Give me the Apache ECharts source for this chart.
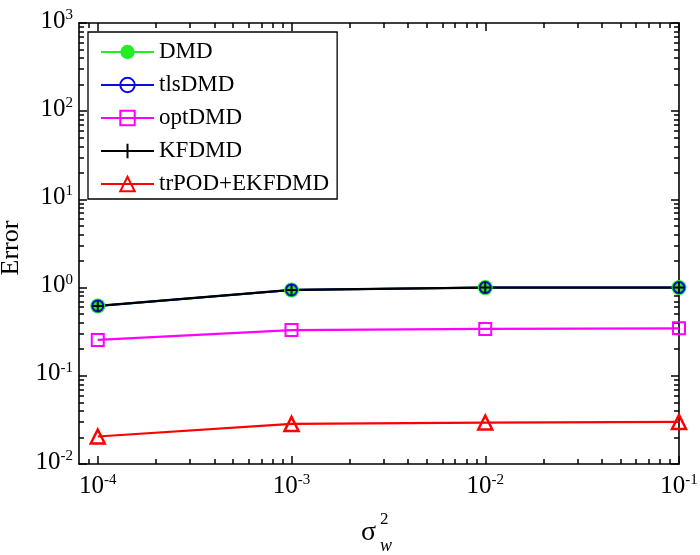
<!DOCTYPE html>
<html>
<head>
<meta charset="utf-8">
<script src="https://cdn.jsdelivr.net/npm/echarts@6/dist/echarts.min.js"></script>
<style>html,body{margin:0;padding:0;background:#fff;}#c{width:700px;height:555px;}</style>
</head>
<body>
<div id="c"></div>
<script>
// ---- data ----
var xValues = [1e-4, 1e-3, 1e-2, 1e-1];
var dmd     = [0.62, 0.94, 1.0, 1.0];
var tlsDmd  = [0.62, 0.94, 1.0, 1.0];
var optDmd  = [0.255, 0.33, 0.34, 0.345];
var kfDmd   = [0.62, 0.94, 1.0, 1.0];
var trPod   = [0.0205, 0.0285, 0.0295, 0.0300];
var seriesNames = ['DMD', 'tlsDMD', 'optDMD', 'KFDMD', 'trPOD+EKFDMD'];
var xMajorTicks = [1e-4, 1e-3, 1e-2, 1e-1];
var yMajorTicks = [1e-2, 1e-1, 1, 1e1, 1e2, 1e3];

var FONT = '"Liberation Serif", "Times New Roman", serif';

var xMin = 8e-5, xMax = 0.1, yMin = 1e-2, yMax = 1e3;

function minorList(decadesFrom, decadesTo, lo, hi) {
  var out = [];
  for (var e = decadesFrom; e <= decadesTo; e++) {
    for (var m = 2; m <= 9; m++) {
      var v = m * Math.pow(10, e);
      if (v > lo * 1.0001 && v < hi * 0.9999) out.push(v);
    }
  }
  return out;
}
var lg = function (v) { return Math.log10(v); };
var xMinor = minorList(-5, -2, xMin, xMax);
var yMinor = minorList(-2, 2, yMin, yMax);

function pair(a, b) { return a.map(function (v, i) { return [a[i], b[i]]; }); }

var labelRich = {
  b: { fontFamily: FONT, fontSize: 25, lineHeight: 26, color: '#000', verticalAlign: 'bottom' },
  s: { fontFamily: FONT, fontSize: 15, lineHeight: 15, color: '#000', verticalAlign: 'top', padding: [0, 0, 16, 0] }
};
function fmt(v) { return '{b|10}{s|' + Math.round(Math.log10(v)) + '}'; }

// main log axes (data + labels)
function logAxis(pos, min, max, ticks, extra) {
  var a = {
    type: 'log', logBase: 10, min: min, max: max, position: pos, gridIndex: 0,
    axisLine: { show: true, onZero: false, lineStyle: { color: '#000', width: 1.6 } },
    axisTick: { show: false },
    axisLabel: { show: true, customValues: ticks, formatter: fmt, rich: labelRich },
    splitLine: { show: false }
  };
  if (extra) for (var k in extra) a[k] = extra[k];
  return a;
}
// tick-only axes, laid out in log10 space
function tickAxis(pos, min, max, ticks, len, showLine) {
  return {
    type: 'value', min: lg(min), max: lg(max), position: pos, gridIndex: 0,
    axisLine: { show: showLine, onZero: false, lineStyle: { color: '#000', width: 1.6 } },
    axisTick: { show: true, inside: true, length: len, customValues: ticks.map(lg), lineStyle: { color: '#000', width: 1.5 } },
    axisLabel: { show: false },
    splitLine: { show: false }
  };
}

var xAxes = [
  logAxis('bottom', xMin, xMax, xMajorTicks),
  tickAxis('bottom', xMin, xMax, xMajorTicks, 8, false),
  tickAxis('top', xMin, xMax, xMajorTicks, 8, true),
  tickAxis('bottom', xMin, xMax, xMinor, 5, false),
  tickAxis('top', xMin, xMax, xMinor, 5, false)
];
xAxes[0].axisLabel.margin = 9;

var yAxes = [
  logAxis('left', yMin, yMax, yMajorTicks, {
    name: 'Error', nameLocation: 'middle', nameRotate: 90, nameGap: 30,
    nameTextStyle: { fontFamily: FONT, fontSize: 26, color: '#000', padding: [0, 9, 0, 0] }
  }),
  tickAxis('left', yMin, yMax, yMajorTicks, 8, false),
  tickAxis('right', yMin, yMax, yMajorTicks, 8, true),
  tickAxis('left', yMin, yMax, yMinor, 5, false),
  tickAxis('right', yMin, yMax, yMinor, 5, false)
];
yAxes[0].axisLabel.margin = 6;
yAxes[0].axisLabel.padding = [0, 0, 5, 0];

var plusPath = 'path://M5,0L5,10M0,5L10,5';
var TR = 'rgba(0,0,0,0)';

var option = {
  animation: false,
  backgroundColor: '#fff',
  grid: { left: 79, right: 21, top: 23, bottom: 91, containLabel: false, outerBoundsMode: 'none' },
  xAxis: xAxes,
  yAxis: yAxes,
  legend: {
    orient: 'vertical', left: 88, top: 32,
    padding: [8, 8, 3, 12],
    itemGap: 9, itemWidth: 53, itemHeight: 18,
    backgroundColor: '#fff', borderColor: '#000', borderWidth: 1.3,
    textStyle: { fontFamily: FONT, fontSize: 23, lineHeight: 24, color: '#000' },
    data: seriesNames
  },
  series: [
    { name: seriesNames[0], type: 'line', xAxisIndex: 0, yAxisIndex: 0, data: pair(xValues, dmd), symbol: 'circle', symbolSize: 15,
      itemStyle: { color: '#22ee22' }, lineStyle: { color: '#22ee22', width: 2 } },
    { name: seriesNames[1], type: 'line', xAxisIndex: 0, yAxisIndex: 0, data: pair(xValues, tlsDmd), symbol: 'circle', symbolSize: 11,
      itemStyle: { color: TR, borderColor: '#0a0ae6', borderWidth: 2 }, lineStyle: { color: '#0a0ae6', width: 2 } },
    { name: seriesNames[2], type: 'line', xAxisIndex: 0, yAxisIndex: 0, data: pair(xValues, optDmd), symbol: 'rect', symbolSize: 12,
      itemStyle: { color: TR, borderColor: '#ff00ff', borderWidth: 2 }, lineStyle: { color: '#ff00ff', width: 2.2 } },
    { name: seriesNames[3], type: 'line', xAxisIndex: 0, yAxisIndex: 0, data: pair(xValues, kfDmd), symbol: plusPath, symbolSize: 11,
      itemStyle: { color: TR, borderColor: '#000', borderWidth: 2 }, lineStyle: { color: '#000', width: 2.2 } },
    { name: seriesNames[4], type: 'line', xAxisIndex: 0, yAxisIndex: 0, data: pair(xValues, trPod), symbol: 'triangle', symbolSize: 14,
      itemStyle: { color: TR, borderColor: '#ff0000', borderWidth: 2.5 }, lineStyle: { color: '#ff0000', width: 2.2 } }
  ],
  graphic: [
    { type: 'text', left: 361, top: 519, style: { text: 'σ', font: '28px ' + FONT, fill: '#000' } },
    { type: 'text', left: 380, top: 511, style: { text: '2', font: '17px ' + FONT, fill: '#000' } },
    { type: 'text', left: 380, top: 537, style: { text: 'w', font: 'italic 18px ' + FONT, fill: '#000' } }
  ]
};

var chart = echarts.init(document.getElementById('c'), null, { renderer: 'canvas' });
chart.setOption(option);
</script>
</body>
</html>
